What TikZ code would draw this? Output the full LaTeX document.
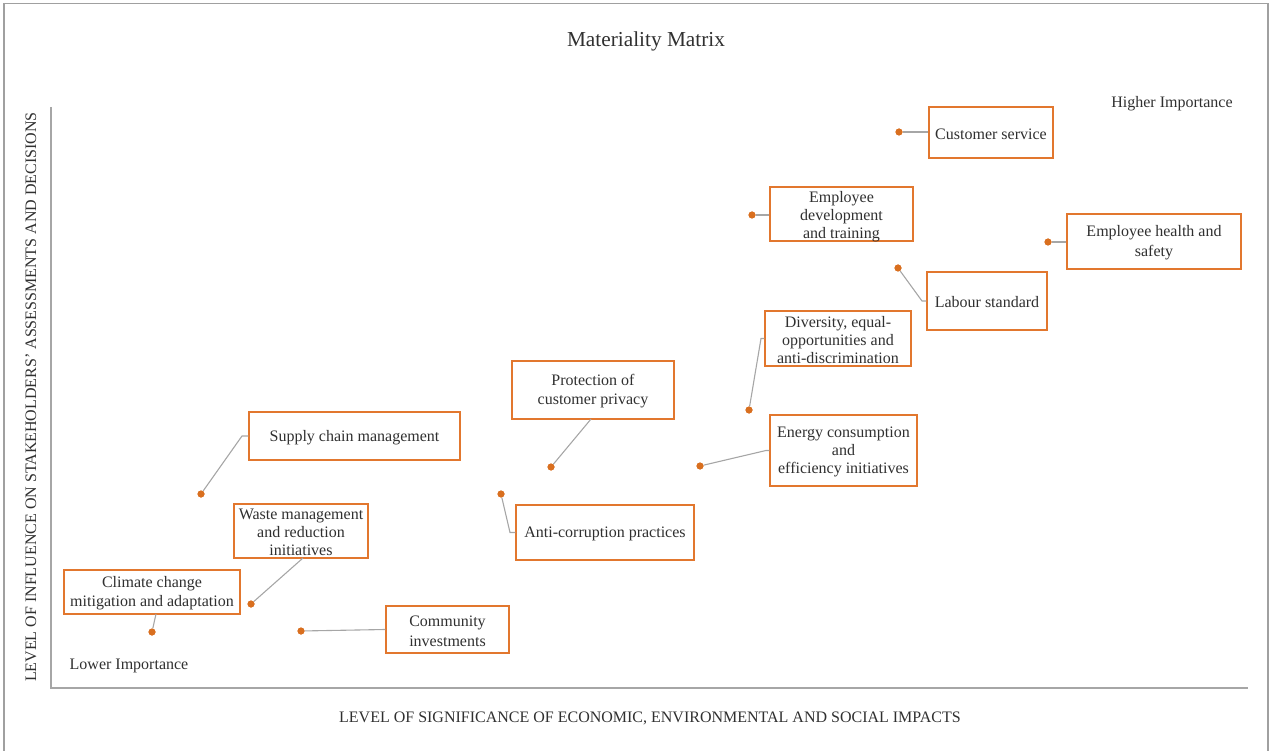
\documentclass[tikz,border=0pt]{standalone}
\usepackage{fontspec}
\setmainfont{Liberation Serif}
\definecolor{boxor}{HTML}{E2772E}
\definecolor{dotor}{HTML}{D96F1F}
\definecolor{conn}{HTML}{A6A6A6}
\definecolor{frm}{HTML}{A0A0A0}
\definecolor{txt}{HTML}{303030}
\tikzset{
  lbl/.style={draw=boxor, line width=1.4pt, fill=white, inner sep=0pt},
  lt/.style={align=center, inner sep=0pt, text=txt, font=\fontsize{16}{18}\selectfont},
  pt/.style={circle, fill=dotor, inner sep=0pt, minimum size=7pt},
  cn/.style={draw=conn, line width=1.1pt},
  plain/.style={text=txt, font=\fontsize{16}{18}\selectfont, inner sep=0pt}
}
\begin{document}
\begin{tikzpicture}[x=1pt,y=-1pt]
\useasboundingbox (0,0) rectangle (1269,751);
% outer frame
\draw[frm, line width=1.2pt] (4,760) -- (4,3.5) -- (1268,3.5) -- (1268,760);
% axes
\coordinate (ytop) at (51,107);
\coordinate (orig) at (51,688);
\coordinate (xend) at (1248,688);
\draw[conn, line width=1.2pt] (ytop) -- (orig) -- (xend);
% titles
\node[plain, font=\fontsize{21.3}{24}\selectfont] (title) at (646,41) {Materiality Matrix};
\node[plain] (xlab) at (650,718) {LEVEL OF SIGNIFICANCE OF ECONOMIC, ENVIRONMENTAL AND SOCIAL IMPACTS};
\node[plain, rotate=90] (ylab) at (31,397) {LEVEL OF INFLUENCE ON STAKEHOLDERS' ASSESSMENTS AND DECISIONS};
\node[plain] (hi) at (1172,103.5) {Higher Importance};
\node[plain] (lo) at (129,665.5) {Lower Importance};
% dots
\node[pt] (d1) at (899,132) {};
\node[pt] (d2) at (752,215) {};
\node[pt] (d3) at (1048,242) {};
\node[pt] (d4) at (898,268) {};
\node[pt] (d5) at (749,410) {};
\node[pt] (d6) at (551,467) {};
\node[pt] (d7) at (700,466) {};
\node[pt] (d8) at (201,494) {};
\node[pt] (d9) at (501,494) {};
\node[pt] (d10) at (251,604) {};
\node[pt] (d11) at (152,632) {};
\node[pt] (d12) at (301,631) {};
% boxes
\node[lbl, minimum width=124pt, minimum height=51pt] (b1) at (991,132.5) {};
\node[lt] (t1) at ([yshift=-1.5pt]b1) {Customer service};
\node[lbl, minimum width=143pt, minimum height=54pt] (b2) at (841.5,214) {};
\node[lt] (t2) at ([yshift=-2.5pt]b2) {Employee\\development\\ and training};
\node[lbl, minimum width=174pt, minimum height=55pt] (b3) at (1154,241.5) {};
\node[lt, font=\fontsize{16}{20}\selectfont] (t3) at ([yshift=-1.5pt]b3) {Employee health and\\safety};
\node[lbl, minimum width=120pt, minimum height=58pt] (b4) at (987,301) {};
\node[lt] (t4) at ([yshift=-1.5pt]b4) {Labour standard};
\node[lbl, minimum width=146pt, minimum height=55pt] (b5) at (838,338.5) {};
\node[lt] (t5) at ([yshift=-1.5pt]b5) {Diversity, equal-\\opportunities and\\anti-discrimination};
\node[lbl, minimum width=162pt, minimum height=58pt] (b6) at (593,390) {};
\node[lt, font=\fontsize{16}{19}\selectfont] (t6) at ([yshift=-1.5pt]b6) {Protection of\\customer privacy};
\node[lbl, minimum width=147pt, minimum height=71pt] (b7) at (843.5,450.5) {};
\node[lt] (t7) at ([yshift=-1.5pt]b7) {Energy consumption\\and\\efficiency initiatives};
\node[lbl, minimum width=211pt, minimum height=48pt] (b8) at (354.5,436) {};
\node[lt] (t8) at ([yshift=-1.5pt]b8) {Supply chain management};
\node[lbl, minimum width=178pt, minimum height=55pt] (b9) at (605,532.5) {};
\node[lt] (t9) at ([yshift=-1.5pt]b9) {Anti-corruption practices};
\node[lbl, minimum width=134pt, minimum height=54pt] (b10) at (301,531) {};
\node[lt] (t10) at ([yshift=-1.5pt]b10) {Waste management\\and reduction\\initiatives};
\node[lbl, minimum width=176pt, minimum height=44pt] (b11) at (152,592) {};
\node[lt, font=\fontsize{16}{19}\selectfont] (t11) at ([yshift=-1.5pt]b11) {Climate change\\mitigation and adaptation};
\node[lbl, minimum width=123pt, minimum height=47pt] (b12) at (447.5,629.5) {};
\node[lt, font=\fontsize{16}{20}\selectfont] (t12) at ([yshift=-1.5pt]b12) {Community\\investments};
% connectors
\draw[cn] (d1) -- (d1 -| b1.west);
\draw[cn] (d2) -- (d2 -| b2.west);
\draw[cn] (d3) -- (d3 -| b3.west);
\coordinate (k4) at (922,301);
\draw[cn] (d4) -- (k4) -- (b4.west);
\coordinate (k5) at (761,338.5);
\draw[cn] (d5) -- (k5) -- (b5.west);
\coordinate (k6) at (591,419);
\draw[cn] (d6) -- (k6);
\coordinate (k7) at (766,450.5);
\draw[cn] (d7) -- (k7) -- (b7.west);
\coordinate (k8) at (242,436);
\draw[cn] (d8) -- (k8) -- (b8.west);
\coordinate (k9) at (510,532.5);
\draw[cn] (d9) -- (k9) -- (b9.west);
\coordinate (k10) at (303,558);
\draw[cn] (d10) -- (k10);
\coordinate (k11) at (156,614);
\draw[cn] (d11) -- (k11);
\draw[cn] (d12) -- (b12.west);
% redraw dots on top
\foreach \n in {d1,d2,d3,d4,d5,d6,d7,d8,d9,d10,d11,d12} {\fill[dotor] (\n) circle (3.5pt);}
\end{tikzpicture}
\end{document}
